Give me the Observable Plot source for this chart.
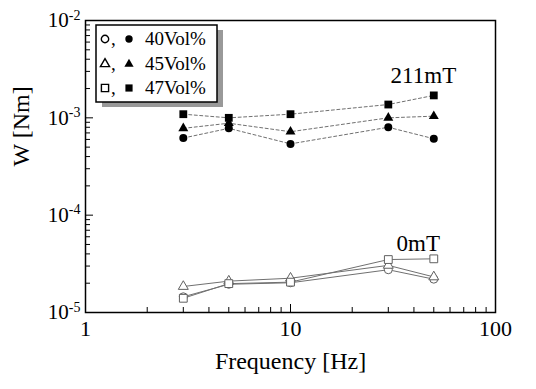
<!DOCTYPE html>
<html><head><meta charset="utf-8">
<script src="https://cdn.jsdelivr.net/npm/d3@7"></script>
<script src="https://cdn.jsdelivr.net/npm/@observablehq/plot@0.6"></script>
<style>body{margin:0;background:#fff} svg text{font-family:"Liberation Serif","Times New Roman",serif !important;}</style>
</head><body><div id="chart"></div>
<script>
// ---- data ----
const freq = [3, 5, 10, 30, 50];
const seriesNames = ["40Vol%", "45Vol%", "47Vol%"];
const w211_40 = [6.2e-4, 7.8e-4, 5.4e-4, 8.0e-4, 6.1e-4];
const w211_45 = [7.8e-4, 8.8e-4, 7.2e-4, 1.0e-3, 1.04e-3];
const w211_47 = [1.09e-3, 1.0e-3, 1.09e-3, 1.37e-3, 1.70e-3];
const w0_40 = [1.45e-5, 1.95e-5, 2.02e-5, 2.75e-5, 2.2e-5];
const w0_45 = [1.85e-5, 2.1e-5, 2.25e-5, 3.05e-5, 2.32e-5];
const w0_47 = [1.40e-5, 1.98e-5, 2.05e-5, 3.5e-5, 3.56e-5];
const xTickValues = [1, 10, 100];
const xTickLabels = ["1", "10", "100"];
const yTickValues = [1e-5, 1e-4, 1e-3, 1e-2];
const yTickLabels = ["10|-5", "10|-4", "10|-3", "10|-2"];
const annoText = ["211mT", "0mT"];
const annoX = [44.5, 42];
const annoY = [2.3e-3, 4.3e-5];

const xMinor = [2,3,4,5,6,7,8,9,20,30,40,50,60,70,80,90];
const yMinor = [];
[-5, -4, -3].forEach(k => [2,3,4,5,6,7,8,9].forEach(m => yMinor.push(m * Math.pow(10, k))));

const serif = "'Liberation Serif', 'Times New Roman', serif";
function rows(vals, s) { return freq.map((f, i) => ({f, w: vals[i], s})); }
const d211 = [rows(w211_40, seriesNames[0]), rows(w211_45, seriesNames[1]), rows(w211_47, seriesNames[2])];
const d0 = [rows(w0_40, seriesNames[0]), rows(w0_45, seriesNames[1]), rows(w0_47, seriesNames[2])];
const symbols = ["circle", "triangle", "square"];
const sizes = [4, 3.7, 4.4];
const annos = annoText.map((t, i) => ({t, x: annoX[i], y: annoY[i]}));

const marks = [
  Plot.axisX(xMinor, {tickSize: -5, fill: "none", label: null}),
  Plot.axisX(xTickValues, {tickSize: -8, fill: "none", label: null}),
  Plot.axisX(xTickValues, {tickSize: 0, tickPadding: 8, fontSize: 22, fontFamily: serif, tickFormat: d => xTickLabels[xTickValues.indexOf(d)], label: null}),
  Plot.axisY(yMinor, {tickSize: -5, fill: "none", label: null}),
  Plot.axisY(yTickValues, {tickSize: -8, fill: "none", label: null}),
  Plot.axisY(yTickValues, {tickSize: 0, tickPadding: 5, fontSize: 21, fontFamily: serif, tickFormat: d => yTickLabels[yTickValues.indexOf(d)], label: null}),
  Plot.frame({stroke: "black", strokeWidth: 1.5}),
  Plot.text(["Frequency [Hz]"], {text: d => d, frameAnchor: "bottom", dy: 56, lineAnchor: "bottom", fontSize: 24, fontFamily: serif}),
  Plot.text(["W [Nm]"], {text: d => d, frameAnchor: "left", dx: -64, rotate: -90, lineAnchor: "middle", fontSize: 24, fontFamily: serif}),
  Plot.text(annos, {x: "x", y: "y", text: "t", lineAnchor: "bottom", fontSize: 23, fontFamily: serif})
];
d0.forEach(d => marks.push(Plot.line(d, {x: "f", y: "w", stroke: "#707070", strokeWidth: 1})));
d211.forEach(d => marks.push(Plot.line(d, {x: "f", y: "w", stroke: "#707070", strokeWidth: 1, strokeDasharray: "3,2.5"})));
d0.forEach((d, i) => marks.push(Plot.dot(d, {x: "f", y: "w", symbol: symbols[i], r: sizes[i], fill: "white", stroke: "#606060", strokeWidth: 1})));
d211.forEach((d, i) => marks.push(Plot.dot(d, {x: "f", y: "w", symbol: symbols[i], r: sizes[i], fill: "black", stroke: "none"})));

const plot = Plot.plot({
  width: 536, height: 389,
  marginLeft: 85, marginRight: 41, marginTop: 20, marginBottom: 77,
  style: {fontFamily: serif, background: "white", color: "black"},
  x: {type: "log", domain: [1, 100], label: null, axis: null},
  y: {type: "log", domain: [1e-5, 1e-2], label: null, axis: null},
  marks
});

// superscripts on y tick labels
d3.select(plot).selectAll('g[aria-label="y-axis tick label"] text').each(function() {
  const parts = this.textContent.split("|");
  if (parts.length < 2) return;
  this.textContent = "";
  const t = d3.select(this);
  t.append("tspan").text(parts[0]);
  t.append("tspan").attr("font-size", 14).attr("dy", "-0.55em").text(parts[1]);
});

// legend
const svg = d3.select(plot);
const lg = svg.append("g").attr("class", "legend").attr("font-family", serif).attr("text-anchor", "start");
lg.append("rect").attr("x", 102).attr("y", 30).attr("width", 121).attr("height", 77).attr("fill", "#999");
lg.append("rect").attr("x", 96).attr("y", 25).attr("width", 121).attr("height", 77).attr("fill", "white").attr("stroke", "black").attr("stroke-width", 1.5);
const rowY = [39, 64, 88];
const symTypes = [d3.symbolCircle, d3.symbolTriangle, d3.symbolSquare];
seriesNames.forEach((name, i) => {
  const area = Math.PI * sizes[i] * sizes[i] * 0.85;
  const path = d3.symbol(symTypes[i], area)();
  lg.append("path").attr("d", path).attr("transform", `translate(105,${rowY[i]})`).attr("fill", "white").attr("stroke", "black").attr("stroke-width", 1.4);
  lg.append("text").attr("x", 111).attr("y", rowY[i] + 6).attr("font-size", 19).text(",");
  lg.append("path").attr("d", path).attr("transform", `translate(129,${rowY[i]})`).attr("fill", "black");
  lg.append("text").attr("x", 145).attr("y", rowY[i] + 6).attr("font-size", 19).text(name);
});

document.getElementById("chart").appendChild(plot);
</script>
</body></html>
